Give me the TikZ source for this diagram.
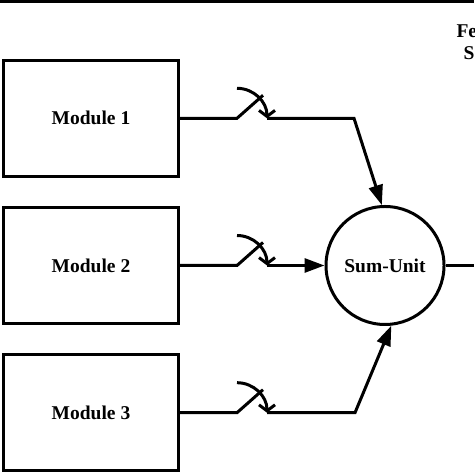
\documentclass[tikz,border=0pt]{standalone}
\usepackage{fontspec}
\setmainfont{Liberation Serif}
\usetikzlibrary{arrows.meta}

\begin{document}
\begin{tikzpicture}[x=0.5pt,y=0.5pt,line width=1.5pt,>={Triangle[length=10pt,width=7pt]},
  font=\fontsize{9.75}{11}\selectfont\bfseries,
  modbox/.style={draw,minimum width=87.25pt,minimum height=58.25pt,inner sep=0pt},
  sumnode/.style={draw,circle,minimum size=59pt,inner sep=0pt},
  knife/.style={-{Straight Barb[length=3pt,width=8pt]}}]
\useasboundingbox (0,0) rectangle (474,474);
\draw (0,472.8) -- (474,472.8);
\node[modbox] (m1) at (91,355.7) {Module 1};
\node[modbox] (m2) at (91,208.5) {Module 2};
\node[modbox] (m3) at (91,61.3) {Module 3};
\node[sumnode] (sum) at (385,208.5) {Sum-Unit};
\node[anchor=base west,inner sep=0pt] (fe) at (455,436.5) {Fe};
\node[anchor=base west,inner sep=0pt] (sg) at (462,414) {S};
% switches
\foreach \i/\y in {1/355.7,2/208.5,3/61.3}{
  \coordinate (s\i) at (237,\y);
  \coordinate (t\i) at (267,\y);
  \draw (m\i.east) -- (s\i) -- ++(26,23);
  \draw[knife] ([yshift=15pt]s\i) arc[start angle=90,end angle=0,radius=15pt];
}
\coordinate (c1) at (354,355.7);
\coordinate (c3) at (355,61.3);
\coordinate (out) at (474,208.5);
\draw[->] (t1) -- (c1) -- (sum.93);
\draw[->] (t2) -- (sum.west);
\draw[->] (t3) -- (c3) -- (sum.-84);
\draw (sum.east) -- (out);
\end{tikzpicture}
\end{document}
